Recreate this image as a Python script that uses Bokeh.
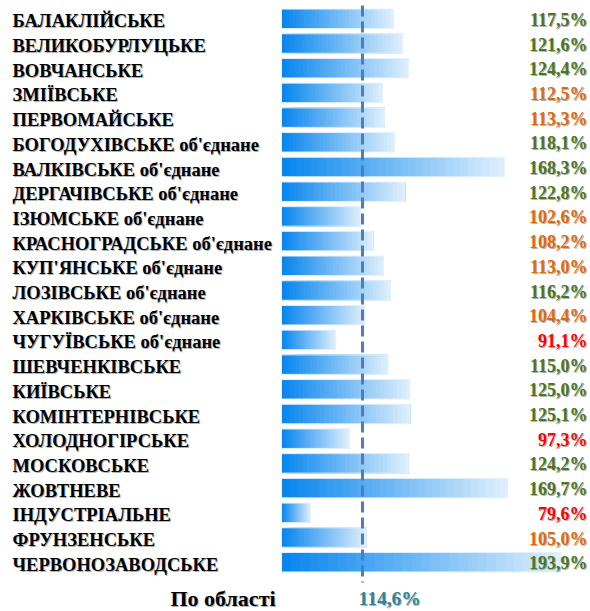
from bokeh.plotting import figure
from bokeh.models import Range1d, ColumnDataSource
from bokeh.core.properties import value
from bokeh.embed import file_html
from bokeh.resources import INLINE

# ---- data ----
districts = [
    "БАЛАКЛІЙСЬКЕ", "ВЕЛИКОБУРЛУЦЬКЕ", "ВОВЧАНСЬКЕ", "ЗМІЇВСЬКЕ", "ПЕРВОМАЙСЬКЕ",
    "БОГОДУХІВСЬКЕ об'єднане", "ВАЛКІВСЬКЕ об'єднане", "ДЕРГАЧІВСЬКЕ об'єднане",
    "ІЗЮМСЬКЕ об'єднане", "КРАСНОГРАДСЬКЕ об'єднане", "КУП'ЯНСЬКЕ об'єднане",
    "ЛОЗІВСЬКЕ об'єднане", "ХАРКІВСЬКЕ об'єднане", "ЧУГУЇВСЬКЕ об'єднане",
    "ШЕВЧЕНКІВСЬКЕ", "КИЇВСЬКЕ", "КОМІНТЕРНІВСЬКЕ", "ХОЛОДНОГІРСЬКЕ", "МОСКОВСЬКЕ",
    "ЖОВТНЕВЕ", "ІНДУСТРІАЛЬНЕ", "ФРУНЗЕНСЬКЕ", "ЧЕРВОНОЗАВОДСЬКЕ",
]
values = [117.5, 121.6, 124.4, 112.5, 113.3, 118.1, 168.3, 122.8, 102.6, 108.2, 113.0,
          116.2, 104.4, 91.1, 115.0, 125.0, 125.1, 97.3, 124.2, 169.7, 79.6, 105.0, 193.9]
total_label = "По області"
total_value = 114.6

# ---- layout constants ----
W, H = 590, 611
PX_PER_UNIT = 2.187
BASE = 66.3            # value at which bars start
BASE_PX = 281          # pixel position of bar start
XMIN = BASE - BASE_PX / PX_PER_UNIT
XMAX = XMIN + W / PX_PER_UNIT
LINE_X = BASE + (362 - BASE_PX) / PX_PER_UNIT   # drawn position of the dashed line
ROW0, STEP, BAR_H = 18.3, 24.7, 19.5
N = 30

GREEN, ORANGE, RED, TEAL = "#4A761E", "#E2690A", "#FF0000", "#31849B"
C0 = (8, 134, 238)
C1 = (220, 238, 252)

p = figure(width=W, height=H, x_range=Range1d(XMIN, XMAX), y_range=Range1d(H, 0),
           output_backend="svg", toolbar_location=None, min_border=0)
p.axis.visible = False
p.grid.visible = False
p.outline_line_color = None
p.background_fill_color = "white"
p.border_fill_color = "white"

ys = [ROW0 + i * STEP for i in range(len(values))]

# gradient bars: overlapping layers, each from its start to the bar end
L, R, T, B, C = [], [], [], [], []
for y, v in zip(ys, values):
    w = v - BASE
    for k in range(N):
        t = k / (N - 1)
        col = "#%02x%02x%02x" % tuple(int(round(a + (b - a) * t)) for a, b in zip(C0, C1))
        L.append(BASE + w * k / N)
        R.append(v)
        T.append(y - BAR_H / 2)
        B.append(y + BAR_H / 2)
        C.append(col)
p.quad(left=L, right=R, top=T, bottom=B, fill_color=C, line_color=None)
p.quad(left=[BASE] * len(values), right=values, top=[y - BAR_H / 2 for y in ys],
       bottom=[y + BAR_H / 2 for y in ys], fill_color=None, line_color="#e6f2fd", line_width=1)

# dashed line
p.segment(x0=[LINE_X], x1=[LINE_X], y0=[5], y1=[582], line_color="#4A7EBF",
          line_width=3, line_dash="11 5")

font = value("Liberation Serif")

def txt(xs, yv, texts, colors, size, align, xoff=0, yoff=0):
    src = ColumnDataSource(dict(x=xs, y=yv, t=texts, c=colors))
    p.text(x="x", y="y", text="t", source=src, text_color="#666666", text_alpha=0.5,
           text_font=font, text_font_style="bold", text_font_size=size,
           text_align=align, text_baseline="middle", x_offset=xoff + 1, y_offset=yoff + 1)
    p.text(x="x", y="y", text="t", source=src, text_color="c",
           text_font=font, text_font_style="bold", text_font_size=size,
           text_align=align, text_baseline="middle", x_offset=xoff, y_offset=yoff)

# category labels
txt([XMIN] * len(districts), ys, districts, ["#000000"] * len(districts), "18.5px", "left", xoff=12, yoff=2.5)

# value labels
def vcol(v):
    if v < 100:
        return RED
    if v < total_value:
        return ORANGE
    return GREEN

vtexts = [("%.1f" % v).replace(".", ",") + "%" for v in values]
txt([XMAX] * len(values), ys, vtexts, [vcol(v) for v in values], "18px", "right", xoff=-3, yoff=1)

# total row
ty = 598
txt([XMIN + 222.5 / PX_PER_UNIT], [ty], [total_label], ["#000000"], "22px", "center")
txt([XMIN + 358 / PX_PER_UNIT], [ty], [("%.1f" % total_value).replace(".", ",") + "%"], [TEAL], "19.5px", "left")

open("out.html", "w").write(file_html(p, INLINE))
